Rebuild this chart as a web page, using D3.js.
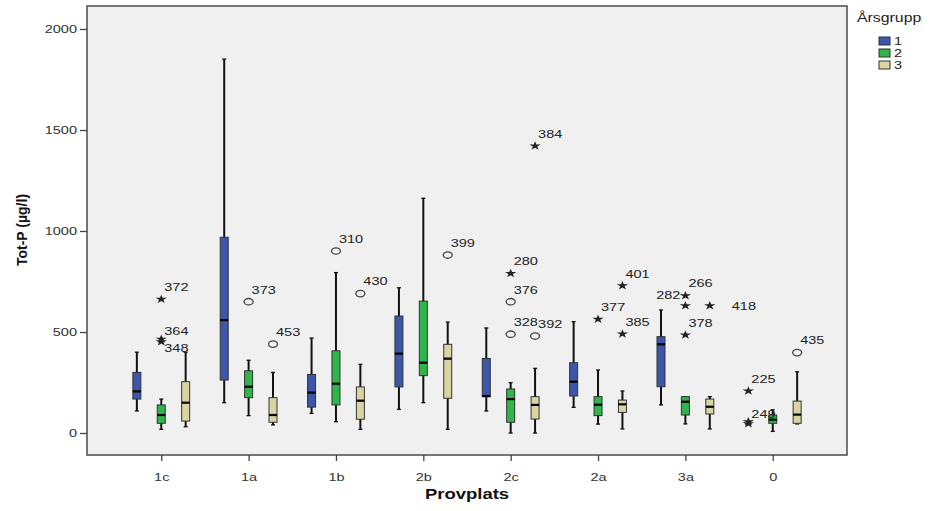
<!DOCTYPE html>
<html>
<head>
<meta charset="utf-8">
<script src="https://cdn.jsdelivr.net/npm/d3@7"></script>
<style>
  body { margin: 0; background: #fff; }
  svg { display: block; font-family: "Liberation Sans", Arial, sans-serif; }
</style>
</head>
<body>
<svg width="931" height="511"></svg>
<script>
// categories and groups
var categories = ["1c", "1a", "1b", "2b", "2c", "2a", "3a", "0"];
var groups = ["1", "2", "3"];
var yTicks = [0, 500, 1000, 1500, 2000];

// [min, q1, median, q3, max] per Provplats
var group1Stats = [
  [109, 168, 206, 300, 400],
  [150, 262, 559, 969, 1851],
  [97, 128, 200, 290, 470],
  [117, 228, 393, 579, 719],
  [109, 180, 183, 369, 520],
  [127, 183, 254, 348, 551],
  [139, 229, 439, 477, 609],
  null
];
var group2Stats = [
  [18, 48, 89, 139, 168],
  [86, 175, 229, 308, 360],
  [56, 139, 244, 407, 794],
  [150, 284, 348, 653, 1162],
  [0, 53, 168, 218, 249],
  [44, 86, 140, 180, 312],
  [45, 89, 155, 180, 180],
  [8, 48, 66, 89, 115]
];
var group3Stats = [
  [31, 59, 150, 254, 400],
  [40, 53, 89, 175, 300],
  [18, 68, 160, 228, 340],
  [18, 172, 368, 439, 549],
  [0, 69, 139, 180, 320],
  [20, 102, 142, 163, 208],
  [20, 94, 130, 168, 180],
  [45, 48, 91, 158, 303]
];

// outliers: o = outlier (circle), * = extreme (star)
var outlierCat   = ["1c","1c","1c","1a","1a","1b","1b","2b","2c","2c","2c","2c","2c","2a","2a","2a","3a","3a","3a","3a","0","0","0","0"];
var outlierGroup = ["2","2","2","2","3","2","3","3","2","2","2","3","3","2","3","3","2","2","2","3","1","1","1","3"];
var outlierValue = [662,465,452,650,440,901,690,881,790,650,489,480,1421,563,729,490,680,630,485,630,208,56,46,398];
var outlierId    = ["372","364","348","373","453","310","430","399","280","376","328","392","384","377","401","385","266","282","378","418","225","249","","435"];
var outlierKind  = ["*","*","*","o","o","o","o","o","*","o","o","o","*","*","*","*","*","*","*","*","*","*","*","o"];

// layout
var svg = d3.select("svg");
var frame = {left: 87, top: 6, right: 847, bottom: 455};
var sx = 1.32; // horizontal text stretch of the original picture
var colors = {"1": "#3c57aa", "2": "#2fb54b", "3": "#d9d4a1"};
var labelNudge = { "364": [3, -8], "348": [3, 6], "282": [-5, -11], "418": [22, 0], "249": [3, -8] };

var x = d3.scalePoint().domain(categories).range([frame.left, frame.right]).padding(0.85);
var xg = d3.scalePoint().domain(groups).range([-24.4, 24.4]);
var y = d3.scaleLinear().domain([0, 2000]).range([433, 29]);

function stext(g, px, py, str, anchor) {
  return g.append("text")
    .attr("transform", "translate(" + px + "," + py + ") scale(" + sx + ",1)")
    .attr("text-anchor", anchor || "start")
    .attr("dy", "0.35em")
    .text(str);
}

svg.append("rect")
  .attr("x", frame.left).attr("y", frame.top)
  .attr("width", frame.right - frame.left).attr("height", frame.bottom - frame.top)
  .attr("fill", "#f0f0f0").attr("stroke", "#4a4a4a").attr("stroke-width", 1.5);

// y axis
var yAxis = svg.append("g")
  .attr("transform", "translate(" + frame.left + ",0)")
  .call(d3.axisLeft(y).tickValues(yTicks).tickSize(7).tickFormat(d3.format("d")));
yAxis.select(".domain").remove();
yAxis.selectAll(".tick line").attr("stroke", "#444").attr("stroke-width", 1.3);
yAxis.selectAll(".tick text")
  .attr("x", null).attr("dy", "0.35em")
  .attr("transform", "translate(-10,0) scale(" + sx + ",1)")
  .attr("font-size", 11).attr("fill", "#333")
  .attr("font-family", "Liberation Sans, Arial, sans-serif");

// x axis
var xAxis = svg.append("g")
  .attr("transform", "translate(0," + frame.bottom + ")")
  .call(d3.axisBottom(x).tickSize(6));
xAxis.select(".domain").remove();
xAxis.selectAll(".tick line").attr("stroke", "#444").attr("stroke-width", 1.3);
xAxis.selectAll(".tick text")
  .attr("y", null).attr("dy", "0.35em")
  .attr("transform", "translate(0,22) scale(" + sx + ",1)")
  .attr("font-size", 11).attr("fill", "#333")
  .attr("font-family", "Liberation Sans, Arial, sans-serif");

// axis titles
stext(svg, (frame.left + frame.right) / 2, 494, "Provplats", "middle")
  .attr("font-weight", "bold").attr("font-size", 14).attr("fill", "#111");
svg.append("text")
  .attr("transform", "translate(22,230) rotate(-90)")
  .attr("text-anchor", "middle").attr("dy", "0.35em")
  .attr("font-weight", "bold").attr("font-size", 14).attr("fill", "#111")
  .text("Tot-P (µg/l)");

// boxes
var allStats = {"1": group1Stats, "2": group2Stats, "3": group3Stats};
var boxW = 8, capW = 4;
groups.forEach(function(gk) {
  allStats[gk].forEach(function(s, i) {
    if (!s) return;
    var cx = x(categories[i]) + xg(gk);
    var g = svg.append("g").attr("class", "box");
    g.append("line")
      .attr("x1", cx).attr("x2", cx).attr("y1", y(s[0])).attr("y2", y(s[4]))
      .attr("stroke", "#111").attr("stroke-width", 2);
    [s[0], s[4]].forEach(function(v) {
      g.append("line")
        .attr("x1", cx - capW / 2).attr("x2", cx + capW / 2).attr("y1", y(v)).attr("y2", y(v))
        .attr("stroke", "#111").attr("stroke-width", 1.3);
    });
    g.append("rect")
      .attr("x", cx - boxW / 2).attr("width", boxW)
      .attr("y", y(s[3])).attr("height", Math.max(1, y(s[1]) - y(s[3])))
      .attr("fill", colors[gk]).attr("stroke", "#333").attr("stroke-width", 1);
    g.append("line")
      .attr("x1", cx - boxW / 2).attr("x2", cx + boxW / 2).attr("y1", y(s[2])).attr("y2", y(s[2]))
      .attr("stroke", "#000").attr("stroke-width", 2.2);
  });
});

// outliers
var star = d3.symbol().type(d3.symbolStar).size(24);
outlierValue.forEach(function(v, i) {
  var cx = x(outlierCat[i]) + xg(outlierGroup[i]);
  var cy = y(v);
  if (outlierKind[i] === "*") {
    svg.append("path").attr("d", star())
      .attr("transform", "translate(" + cx + "," + cy + ") scale(1.3,1)")
      .attr("fill", "#222");
  } else {
    svg.append("ellipse")
      .attr("cx", cx).attr("cy", cy).attr("rx", 4.5).attr("ry", 3.2)
      .attr("fill", "none").attr("stroke", "#444").attr("stroke-width", 1.3);
  }
  if (outlierId[i]) {
    var n = labelNudge[outlierId[i]] || [3, -12];
    stext(svg, cx + n[0], cy + n[1], outlierId[i], n[0] < 0 ? "end" : "start")
      .attr("font-size", 11).attr("fill", "#222");
  }
});

// legend
var legend = svg.append("g");
stext(legend, 857, 18, "Årsgrupp").attr("font-size", 12).attr("fill", "#222");
groups.forEach(function(gk, i) {
  legend.append("rect")
    .attr("x", 879).attr("y", 37 + i * 12).attr("width", 11).attr("height", 8)
    .attr("fill", colors[gk]).attr("stroke", "#333").attr("stroke-width", 1);
  stext(legend, 894, 41 + i * 12, gk).attr("font-size", 11).attr("fill", "#222");
});
</script>
</body>
</html>
